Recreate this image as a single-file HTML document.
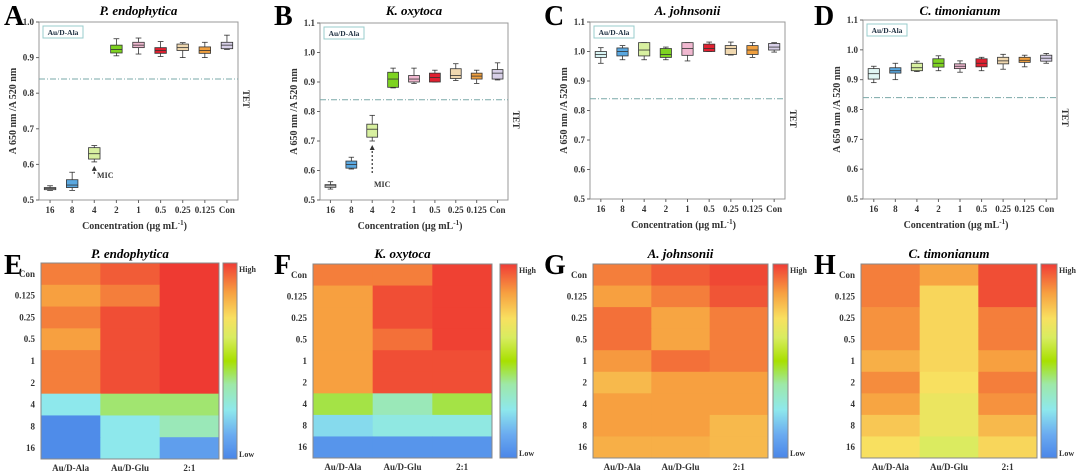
<!DOCTYPE html>
<html><head><meta charset="utf-8"><style>
html,body{margin:0;padding:0;background:#fff;width:1080px;height:473px;overflow:hidden}
svg{display:block;font-family:"Liberation Serif",serif}
</style></head><body>
<svg id="fig" width="1080" height="473" viewBox="0 0 1080 473" xmlns="http://www.w3.org/2000/svg">
<defs>
<linearGradient id="cbar" x1="0" y1="1" x2="0" y2="0">
<stop offset="0" stop-color="#4a86e8"/><stop offset="0.12" stop-color="#6aaaf0"/><stop offset="0.25" stop-color="#8ee8ec"/><stop offset="0.38" stop-color="#9ee8a8"/><stop offset="0.5" stop-color="#a8e000"/><stop offset="0.62" stop-color="#d8ec60"/><stop offset="0.72" stop-color="#f8e060"/><stop offset="0.85" stop-color="#f7a040"/><stop offset="1" stop-color="#f03c36"/>
</linearGradient>
</defs>
</svg>
<script>
const cats = ["16","8","4","2","1","0.5","0.25","0.125","Con"];
const boxColors = ["#f4f4f4","#5aa8e0","#d8f0a0","#7ed321","#f0b8d0","#e02030","#f0d8b0","#f0a040","#d8d0e8"];
const dataA = [[.527,.529,.532,.535,.54],[.527,.535,.542,.557,.578],[.607,.615,.63,.647,.653],[.905,.913,.923,.935,.953],[.91,.928,.935,.943,.955],[.903,.912,.92,.928,.945],[.90,.92,.928,.938,.942],[.90,.912,.92,.93,.943],[.923,.925,.935,.943,.963]];
const dataB = [[.537,.543,.548,.552,.562],[.605,.608,.62,.632,.645],[.70,.713,.74,.757,.787],[.88,.882,.91,.933,.947],[.895,.9,.91,.922,.947],[.9,.9,.915,.93,.94],[.905,.912,.922,.945,.962],[.895,.91,.92,.93,.94],[.907,.91,.93,.942,.965]];
const dataC = [[.96,.98,.99,1.0,1.013],[.972,.985,1.0,1.012,1.02],[.972,.985,1.005,1.03,1.03],[.972,.98,.99,1.01,1.015],[.968,.987,1.01,1.03,1.03],[1.0,1.0,1.01,1.025,1.032],[.988,.99,1.01,1.02,1.032],[.98,.99,1.005,1.02,1.03],[.998,1.005,1.015,1.027,1.03]];
const dataD = [[.89,.902,.92,.937,.945],[.90,.922,.93,.94,.955],[.927,.93,.94,.955,.962],[.93,.942,.955,.97,.98],[.925,.937,.945,.953,.963],[.93,.943,.955,.97,.975],[.935,.953,.963,.975,.985],[.943,.958,.965,.975,.982],[.955,.962,.972,.982,.988]];
const ticksA = ["0.5","0.6","0.7","0.8","0.9","1.0"];
const ticksB = ["0.5","0.6","0.7","0.8","0.9","1.0","1.1"];
const tetValue = 0.84;
const hmRows = ["Con","0.125","0.25","0.5","1","2","4","8","16"];
const hmCols = ["Au/D-Ala","Au/D-Glu","2:1"];
const hmE = [[.9,.95,1],[.85,.9,1],[.9,.97,1],[.85,.97,1],[.9,.97,1],[.9,.97,1],[.25,.42,.42],[.02,.25,.35],[.02,.25,.08]];
const hmF = [[.9,.9,.99],[.85,.97,.99],[.85,.97,.99],[.85,.92,.99],[.85,.97,.97],[.85,.97,.97],[.45,.35,.45],[.22,.27,.27],[.05,.05,.05]];
const hmG = [[.9,.95,.98],[.85,.9,.96],[.92,.84,.9],[.92,.84,.9],[.86,.92,.9],[.8,.85,.85],[.85,.85,.85],[.85,.85,.8],[.82,.82,.8]];
const hmH = [[.9,.84,.97],[.9,.74,.97],[.87,.74,.9],[.87,.74,.9],[.82,.74,.85],[.88,.72,.9],[.84,.68,.87],[.77,.68,.8],[.72,.63,.74]];

const svg=document.getElementById('fig');
const NS="http://www.w3.org/2000/svg";
function mk(tag,attrs,parent){const e=document.createElementNS(NS,tag);for(const k in attrs)e.setAttribute(k,attrs[k]);(parent||svg).appendChild(e);return e;}
function txt(s,attrs,parent){const e=mk('text',attrs,parent);e.textContent=s;return e;}

const stops=[[0,[74,134,232]],[.12,[106,170,240]],[.25,[142,232,236]],[.38,[158,232,168]],[.5,[168,224,0]],[.62,[216,236,96]],[.72,[248,224,96]],[.85,[247,160,64]],[1,[238,58,50]]];
function cmap(v){for(let i=1;i<stops.length;i++){if(v<=stops[i][0]){const a=stops[i-1],b=stops[i];const t=(v-a[0])/(b[0]-a[0]);const c=a[1].map((x,j)=>Math.round(x+(b[1][j]-x)*t));return `rgb(${c})`;}}return 'rgb(238,58,50)';}

function boxPanel(o){
  const g=mk('g',{});
  
  
  const {x0,x1,y0,y1,ymin,ymax}=o;
  const ys=v=>y1-(v-ymin)/(ymax-ymin)*(y1-y0);
  const step=(x1-x0)/cats.length;
  const xs=i=>x0+step*(i+0.5);
  const L=txt(o.letter,{x:o.lx,y:25,'font-size':28,'font-weight':'bold'},g);
  
  const T=txt(o.title,{x:(x0+x1)/2,y:15,'font-size':13,'font-weight':'bold','font-style':'italic','text-anchor':'middle'},g);
  
  const fr=mk('rect',{x:x0,y:y0,width:x1-x0,height:y1-y0,fill:'none',stroke:'#999','stroke-width':1},g);
  
  o.ticks.forEach(t=>{const v=parseFloat(t);const y=ys(v);
    mk('line',{x1:x0-3,x2:x0,y1:y,y2:y,stroke:'#666'},g);
    const tl=txt(t,{x:x0-5,y:y+3,'font-size':9,'font-weight':'bold','text-anchor':'end',fill:'#333'},g);
    });
  cats.forEach((c,i)=>{const tl=txt(c,{x:xs(i),y:y1+13,'font-size':9,'font-weight':'bold','text-anchor':'middle',fill:'#333'},g);
    
    mk('line',{x1:xs(i),x2:xs(i),y1:y1,y2:y1+3,stroke:'#666'},g);});
  const xt=txt('Concentration (μg mL',{x:(x0+x1)/2-4,y:y1+29,'font-size':10,'font-weight':'bold','text-anchor':'middle',fill:'#333'},g);
  const sup=mk('tspan',{dy:-4,'font-size':7},xt);sup.textContent='-1';
  const cl=mk('tspan',{dy:4},xt);cl.textContent=')';
  
  const yt=txt('A 650 nm /A 520 nm',{x:0,y:0,'font-size':10,'font-weight':'bold','text-anchor':'middle',fill:'#333',transform:`translate(${x0-23},${(y0+y1)/2}) rotate(-90)`},g);
  
  const ty=ys(tetValue);
  const tl=mk('line',{x1:x0,x2:x1,y1:ty,y2:ty,stroke:'#7aa8a8','stroke-width':1,'stroke-dasharray':'6,2,1,2'},g);
  
  const tt=txt('TET',{x:0,y:0,'font-size':9,'font-weight':'bold','text-anchor':'middle',fill:'#333',transform:`translate(${x1+5},${ty+20}) rotate(90)`},g);
  
  const lg=mk('g',{},g);
  mk('rect',{x:x0+4,y:y0+4,width:40,height:12,fill:'#fff',stroke:'#9cc','stroke-width':1},lg);
  txt('Au/D-Ala',{x:x0+24,y:y0+13,'font-size':7.5,'font-weight':'bold','text-anchor':'middle',fill:'#234'},lg);
  const bw=step*0.52;
  o.data.forEach((d,i)=>{const bx=mk('g',{},g);
    
    const cx=xs(i);const [mn,q1,md,q3,mx]=d;
    mk('line',{x1:cx,x2:cx,y1:ys(mx),y2:ys(mn),stroke:'#333','stroke-width':0.8},bx);
    mk('line',{x1:cx-bw/4,x2:cx+bw/4,y1:ys(mx),y2:ys(mx),stroke:'#333','stroke-width':0.8},bx);
    mk('line',{x1:cx-bw/4,x2:cx+bw/4,y1:ys(mn),y2:ys(mn),stroke:'#333','stroke-width':0.8},bx);
    const col=(o.colors&&o.colors[i])||boxColors[i];
    mk('rect',{x:cx-bw/2,y:ys(q3),width:bw,height:Math.max(1,ys(q1)-ys(q3)),fill:col,stroke:'#333','stroke-width':0.8},bx);
    mk('line',{x1:cx-bw/2,x2:cx+bw/2,y1:ys(md),y2:ys(md),stroke:'#333','stroke-width':0.8},bx);
  });
  if(o.mic){const cx=xs(2);const top=ys(o.data[2][0])+4;
    const ar=mk('g',{},g);
    mk('line',{x1:cx,x2:cx,y1:top+o.mic,y2:top+4,stroke:'#333','stroke-width':1.2,'stroke-dasharray':'2,2'},ar);
    mk('path',{d:`M${cx-2.5},${top+5} L${cx},${top} L${cx+2.5},${top+5}Z`,fill:'#333'},ar);
    const m=txt('MIC',{x:cx+(o.micDx||10),y:top+o.mic+o.micDy,'font-size':8,'font-weight':'bold','text-anchor':'middle',fill:'#333'},g);
    }
}
boxPanel({name:'boxplot-p-endophytica',letter:'A',lx:4,title:'P. endophytica',x0:39,x1:238,y0:22,y1:200,ymin:.5,ymax:1.0,ticks:ticksA,data:dataA,mic:8,micDx:11,micDy:4});
boxPanel({name:'boxplot-k-oxytoca',letter:'B',lx:274,title:'K. oxytoca',x0:320,x1:508,y0:23,y1:200,ymin:.5,ymax:1.1,ticks:ticksB,data:dataB,mic:28,micDx:10,micDy:14});
boxPanel({name:'boxplot-a-johnsonii',letter:'C',lx:544,title:'A. johnsonii',x0:590,x1:785,y0:22,y1:199,ymin:.5,ymax:1.1,ticks:ticksB,data:dataC,colors:["#d8f4f4"]});
boxPanel({name:'boxplot-c-timonianum',letter:'D',lx:814,title:'C. timonianum',x0:863,x1:1057,y0:20,y1:199,ymin:.5,ymax:1.1,ticks:ticksB,data:dataD,colors:["#e0f6f4"]});

function heat(o){
  const g=mk('g',{});
  const {x0,x1,y0,y1}=o;const cw=(x1-x0)/hmCols.length,rh=(y1-y0)/hmRows.length;
  const L=txt(o.letter,{x:o.lx,y:274,'font-size':28,'font-weight':'bold'},g);
  
  const T=txt(o.title,{x:(x0+x1)/2,y:258,'font-size':13,'font-weight':'bold','font-style':'italic','text-anchor':'middle'},g);
  
  o.data.forEach((row,r)=>row.forEach((v,c)=>{const cell=mk('rect',{x:x0+c*cw,y:y0+r*rh,width:cw+0.5,height:rh+0.5,fill:cmap(v)},g);
    }));
  mk('rect',{x:x0,y:y0,width:x1-x0,height:y1-y0,fill:'none',stroke:'#888'},g);
  hmRows.forEach((r,i)=>{const t=txt(r,{x:x0-6,y:y0+rh*(i+0.5)+3,'font-size':9,'font-weight':'bold','text-anchor':'end',fill:'#333'},g);
    });
  hmCols.forEach((c,i)=>{const t=txt(c,{x:x0+cw*(i+0.5),y:y1+12,'font-size':9,'font-weight':'bold','text-anchor':'middle',fill:'#333'},g);
    });
  const cb=mk('rect',{x:o.cx,y:y0,width:o.cw,height:y1-y0,fill:'url(#cbar)',stroke:'#888'},g);
  
  const h=txt('High',{x:o.cx+o.cw+2,y:y0+9,'font-size':8,'font-weight':'bold',fill:'#333'},g);
  
  const l=txt('Low',{x:o.cx+o.cw+2,y:y1-2,'font-size':8,'font-weight':'bold',fill:'#333'},g);
  
}
heat({name:'heatmap-p-endophytica',letter:'E',lx:4,title:'P. endophytica',x0:41,x1:219,y0:263,y1:459,data:hmE,cx:223,cw:14});
heat({name:'heatmap-k-oxytoca',letter:'F',lx:274,title:'K. oxytoca',x0:313,x1:492,y0:264,y1:458,data:hmF,cx:500,cw:17});
heat({name:'heatmap-a-johnsonii',letter:'G',lx:544,title:'A. johnsonii',x0:593,x1:768,y0:264,y1:458,data:hmG,cx:773,cw:15});
heat({name:'heatmap-c-timonianum',letter:'H',lx:814,title:'C. timonianum',x0:861,x1:1037,y0:264,y1:458,data:hmH,cx:1041,cw:16});
</script>
</body></html>
